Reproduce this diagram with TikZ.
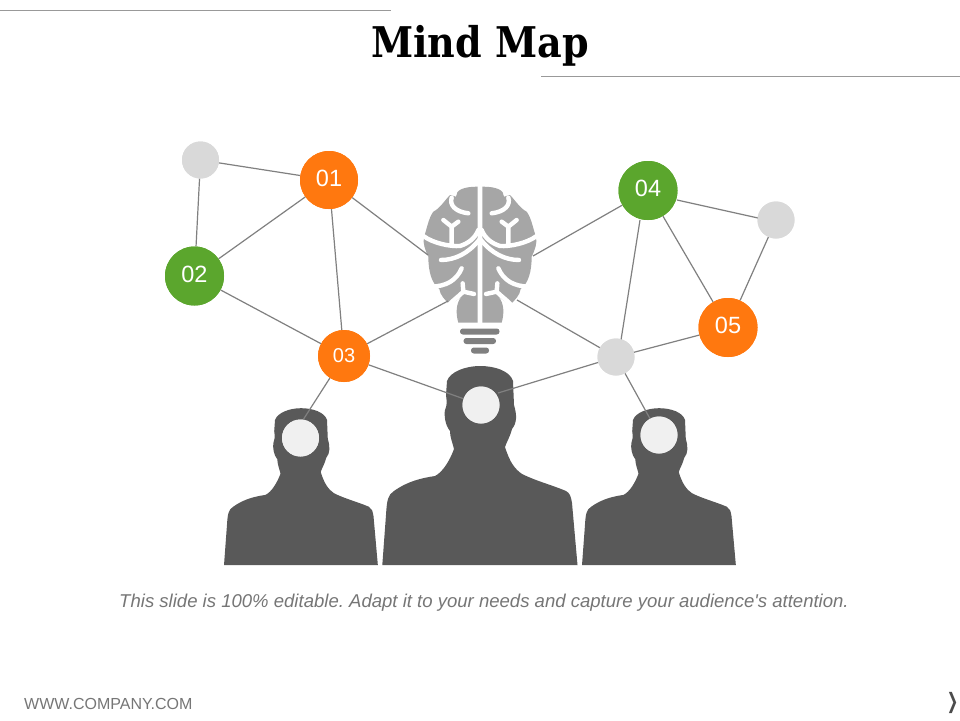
\documentclass[tikz,border=0pt]{standalone}
\usepackage{fontspec}
\setmainfont{Liberation Sans}
\newfontfamily\capfont{Liberation Sans}
\newfontfamily\titlefont{DejaVu Serif Condensed}
\newfontfamily\symfont{DejaVu Sans}
\frenchspacing
\definecolor{morange}{RGB}{255,120,15}
\definecolor{mgreen}{RGB}{91,166,45}
\definecolor{mgrey}{RGB}{217,217,217}
\definecolor{mperson}{RGB}{89,89,89}
\definecolor{mbrain}{RGB}{166,166,166}
\definecolor{mbulb}{RGB}{128,128,128}
\definecolor{mline}{RGB}{128,128,128}
\definecolor{mhead}{RGB}{240,240,240}
\definecolor{mtext}{RGB}{118,118,118}
\newcommand{\personshape}{
  \fill[mperson] (-97.7,0) -- (-94,-50) .. controls (-93,-66) and (-92,-70) .. (-86,-74)
    .. controls (-72,-84) and (-58,-87) .. (-45,-89)
    .. controls (-37,-93) and (-30,-105) .. (-26,-116)
    .. controls (-28,-124) and (-30,-128) .. (-30,-134)
    .. controls (-35,-140) and (-36,-150) .. (-35,-155)
    .. controls (-33,-160) and (-33,-162) .. (-34,-170)
    -- (-33,-184) .. controls (-30,-193) and (-15,-199) .. (0,-199)
    .. controls (15,-199) and (30,-194) .. (33,-184)
    -- (34,-160) .. controls (37,-150) and (37,-142) .. (32,-136)
    .. controls (30,-128) and (27,-124) .. (25,-118)
    .. controls (30,-102) and (35,-96) .. (42,-91)
    .. controls (56,-84) and (72,-80) .. (86,-74)
    .. controls (90,-72) and (91,-68) .. (92,-62) -- (97.5,0) -- cycle;
}
\newcommand{\brainhalf}{
  \fill[mbrain] (-7,35) -- (-7,443) -- (-65,443)
    .. controls (-72,420) and (-74,385) .. (-55,365)
    -- (-90,390) .. controls (-105,375) and (-120,360) .. (-122,342)
    .. controls (-145,325) and (-155,290) .. (-155,245)
    .. controls (-165,225) and (-172,205) .. (-168,185)
    .. controls (-160,165) and (-155,130) .. (-140,110)
    .. controls (-120,100) and (-105,75) .. (-90,60)
    -- (-72,65) .. controls (-72,45) and (-50,35) .. (-7,35) -- cycle;
  \draw[white,line width=4.4pt,line cap=round,line join=round]
    (-85,68) .. controls (-92,90) and (-75,110) .. (-35,115)
    (-170,183) .. controls (-140,205) and (-90,215) .. (-60,213)
    .. controls (-35,205) and (-15,190) .. (-5,165)
    (-110,135) -- (-85,155) -- (-65,140)
    (-85,155) -- (-85,205)
    (-117,255) .. controls (-75,255) and (-35,235) .. (-3,195)
    (-55,280) .. controls (-70,315) and (-100,335) .. (-150,335)
    (-52,325) -- (-50,350) .. controls (-65,365) and (-80,375) .. (-92,388)
    (-50,350) -- (-18,357);
}
\tikzset{
  badge/.style={circle,inner sep=0pt,text=white,font=\fontsize{23.5}{24}\selectfont},
  greydot/.style={circle,inner sep=0pt,fill=mgrey,minimum size=37pt},
  headdot/.style={circle,inner sep=0pt,fill=mhead,minimum size=37pt},
  link/.style={draw=mline,line width=1.2pt},
  rulegrey/.style={draw=mline!80,line width=0.9pt},
  bulbbar/.style={fill=mbulb,rounded corners=2.8pt},
}
\begin{document}
\begin{tikzpicture}[x=1pt,y=-1pt]
\useasboundingbox (0,0) rectangle (960,720);
\fill[white] (0,0) rectangle (960,720);
% rules
\coordinate (ra) at (0,10); \coordinate (rb) at (391,10);
\coordinate (rc) at (541,76); \coordinate (rd) at (960,76);
\draw[rulegrey] (ra) -- (rb);
\draw[rulegrey] (rc) -- (rd);
\node[inner sep=0pt,anchor=base] (title) at (480,57) {\titlefont\bfseries\fontsize{42.3}{43}\selectfont Mind Map};
% brain
\begin{scope}[shift={(480pt,-175pt)},x=0.3333pt,y=-0.3333pt]
  \brainhalf
  \begin{scope}[xscale=-1]\brainhalf\end{scope}
\end{scope}
\fill[bulbbar] (460,328.5) rectangle (499.5,334.5);
\fill[bulbbar] (463.5,338) rectangle (496,344);
\fill[bulbbar] (471,347.5) rectangle (489,353.5);
% people
\begin{scope}[shift={(301pt,-565pt)},scale=0.788]\personshape\end{scope}
\begin{scope}[shift={(480pt,-565pt)}]\personshape\end{scope}
\begin{scope}[shift={(659pt,-565pt)},scale=0.788]\personshape\end{scope}
\node[headdot] (h1) at (300.5,438) {};
\node[headdot] (h2) at (481,405) {};
\node[headdot] (h3) at (659,435) {};
% node positions
\node[circle,inner sep=0pt,minimum size=58pt,fill=morange] (n1) at (329,180) {};
\node[circle,inner sep=0pt,minimum size=59pt,fill=mgreen] (n2) at (194.5,276) {};
\node[circle,inner sep=0pt,minimum size=52pt,fill=morange] (n3) at (344,356) {};
\node[circle,inner sep=0pt,minimum size=59pt,fill=mgreen] (n4) at (648,190.5) {};
\node[circle,inner sep=0pt,minimum size=59pt,fill=morange] (n5) at (728,327.5) {};
\node[greydot] (g1) at (200.5,160) {};
\node[greydot] (g2) at (776,220) {};
\node[greydot] (g3) at (616,357) {};
\coordinate (ba) at (428,255);
\coordinate (bb) at (448,301);
\coordinate (bc) at (533,256);
\coordinate (bd) at (517,300);
\coordinate (p1) at (303,420);
\coordinate (p2) at (498,393);
\coordinate (q1) at (640,220);
\coordinate (q2) at (621,340);
\coordinate (q3) at (677,200);
\coordinate (q4) at (758,218);
% links
\draw[link] (g1) -- (n1);
\draw[link] (g1) -- (n2);
\draw[link] (n1) -- (n2);
\draw[link] (n1) -- (n3);
\draw[link] (n2) -- (n3);
\draw[link] (n1) -- (ba);
\draw[link] (n3) -- (bb);
\draw[link] (n4) -- (bc);
\draw[link] (g3) -- (bd);
\draw[link] (q3) -- (q4);
\draw[link] (n4) -- (n5);
\draw[link] (q1) -- (q2);
\draw[link] (g2) -- (n5);
\draw[link] (n5) -- (g3);
\draw[link] (g3) -- (h3);
\draw[link] (n3) -- (p1);
\draw[link] (n3) -- (h2);
\draw[link] (g3) -- (p2);
% discs on top of links
\fill[morange] (n1) circle (29);
\fill[mgreen] (n2) circle (29.5);
\fill[morange] (n3) circle (26);
\fill[mgreen] (n4) circle (29.5);
\fill[morange] (n5) circle (29.5);
\fill[mhead] (h1) circle (18.5);
\fill[mhead] (h2) circle (18.5);
\fill[mhead] (h3) circle (18.5);
\fill[mgrey] (g1) circle (18.5);
\fill[mgrey] (g2) circle (18.5);
\fill[mgrey] (g3) circle (18.5);
\node[badge,yshift=1.5pt] (t1) at (n1) {01};
\node[badge,yshift=1.5pt] (t2) at (n2) {02};
\node[badge,font=\fontsize{20}{20}\selectfont] (t3) at (n3) {03};
\node[badge,yshift=2pt] (t4) at (n4) {04};
\node[badge,yshift=2pt] (t5) at (n5) {05};
% text
\node[text=mtext,font=\capfont\itshape\fontsize{18.55}{19}\selectfont,inner sep=0pt] (cap) at (484,602.5) {This slide is 100\% editable. Adapt it to your needs and capture your audience's attention.};
\node[text=mtext,font=\fontsize{16}{16}\selectfont,inner sep=0pt,anchor=west] (foot) at (24,704) {WWW.COMPANY.COM};
\node[text=black!70,inner sep=0pt,xscale=0.8,yscale=1.25] (chev) at (952.5,703) {\symfont\fontsize{17}{17}\selectfont ❯};
\end{tikzpicture}
\end{document}
